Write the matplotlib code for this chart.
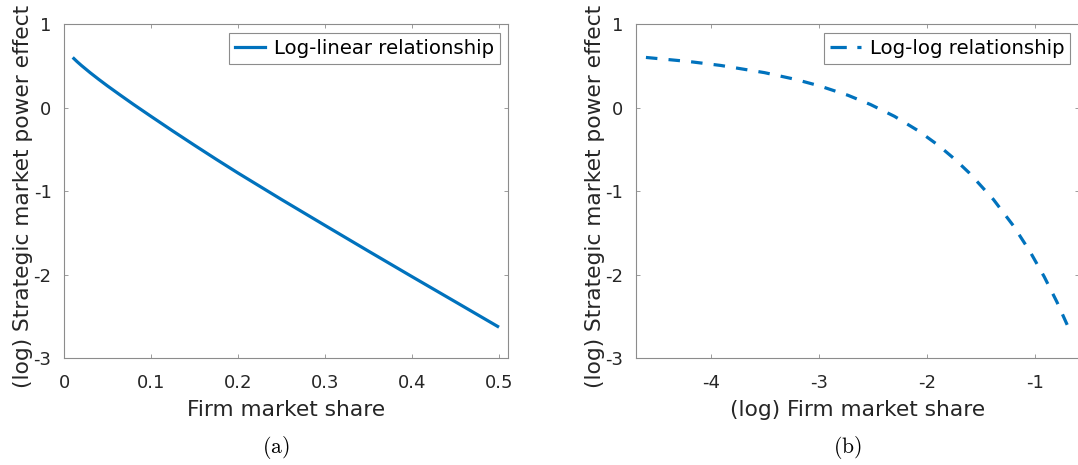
import matplotlib

matplotlib.use("Agg")
import matplotlib.pyplot as plt
import numpy as np
from matplotlib.lines import Line2D
from matplotlib.ticker import FormatStrFormatter

# firm market share and the (log) strategic market power effect at that share
share = [0.01, 0.015, 0.02, 0.03, 0.04, 0.05, 0.065, 0.08, 0.10, 0.125,
         0.15, 0.175, 0.20, 0.25, 0.30, 0.35, 0.40, 0.45, 0.50]
effect = [0.600, 0.550, 0.504, 0.418, 0.337, 0.259, 0.147, 0.037, -0.105, -0.280,
          -0.451, -0.619, -0.783, -1.100, -1.410, -1.718, -2.023, -2.325, -2.628]

share_ticks = [0, 0.1, 0.2, 0.3, 0.4, 0.5]
log_share_ticks = [-4, -3, -2, -1]
effect_ticks = [-3, -2, -1, 0, 1]

BLUE = "#0072BD"
FRAME = "#8c8c8c"
TEXT = "#262626"
LW = 2.3

plt.rcParams["font.family"] = ["DejaVu Sans"]
plt.rcParams["mathtext.fontset"] = "cm"
plt.rcParams["axes.unicode_minus"] = False


def style_axes(ax):
    for sp in ax.spines.values():
        sp.set_color(FRAME)
        sp.set_linewidth(0.8)
    ax.tick_params(axis="both", which="both", direction="in", top=True, right=True,
                   length=2.9, width=0.6, color=FRAME, labelcolor=TEXT, labelsize=13)
    ax.tick_params(axis="x", pad=11)
    ax.tick_params(axis="y", pad=9)
    ax.set_ylim(-3, 1)
    ax.set_yticks(effect_ticks)
    ax.yaxis.set_major_formatter(FormatStrFormatter("%g"))
    ax.xaxis.set_major_formatter(FormatStrFormatter("%g"))
    # label starts just below the axes and runs up to the figure top
    ax.set_ylabel("(log) Strategic market power effect", fontsize=15.7, color=TEXT, ha="left")
    ax.yaxis.set_label_coords(-0.070, -0.090)
    ax.xaxis.set_label_coords(0.5, -0.125)


def add_legend(ax, handle, label, anchor):
    leg = ax.legend([handle], [label], loc="upper right", bbox_to_anchor=anchor,
                    borderaxespad=0, fontsize=14.2, handlelength=1.55,
                    handletextpad=0.45, borderpad=0.3, fancybox=False,
                    framealpha=1, edgecolor=FRAME)
    leg.get_frame().set_linewidth(0.8)
    for t in leg.get_texts():
        t.set_color("black")


fig = plt.figure(figsize=(10.78, 4.65), dpi=100)
ax1 = fig.add_axes([0.05937, 0.22946, 0.41160, 0.71892])
ax2 = fig.add_axes([0.58970, 0.22946, 0.41160, 0.71892])

# (a) effect against the share itself
ax1.plot(share, effect, color=BLUE, lw=LW, solid_capstyle="butt")
style_axes(ax1)
ax1.set_xlim(0, 0.51)
ax1.set_xticks(share_ticks)
ax1.set_xlabel("Firm market share", fontsize=15.7, color=TEXT)
add_legend(ax1, Line2D([], [], color=BLUE, lw=LW), "Log-linear relationship",
           (0.983, 0.972))

# (b) same effect against the log of the share
ax2.plot(np.log(share), effect, color=BLUE, lw=LW, dashes=(3.6, 3.5))
style_axes(ax2)
ax2.set_xlim(-4.7, -0.59)
ax2.set_xticks(log_share_ticks)
ax2.set_xlabel("(log) Firm market share", fontsize=15.7, color=TEXT)
add_legend(ax2, Line2D([], [], color=BLUE, lw=LW, dashes=(5.1, 3.3)),
           "Log-log relationship", (0.979, 0.972))

fig.text(276 / 1078, 1 - 447.5 / 465, r"$\mathrm{(a)}$", ha="center", va="center",
         fontsize=15.6)
fig.text(847 / 1078, 1 - 447.5 / 465, r"$\mathrm{(b)}$", ha="center", va="center",
         fontsize=15.6)

fig.savefig("out.png", dpi=100)
